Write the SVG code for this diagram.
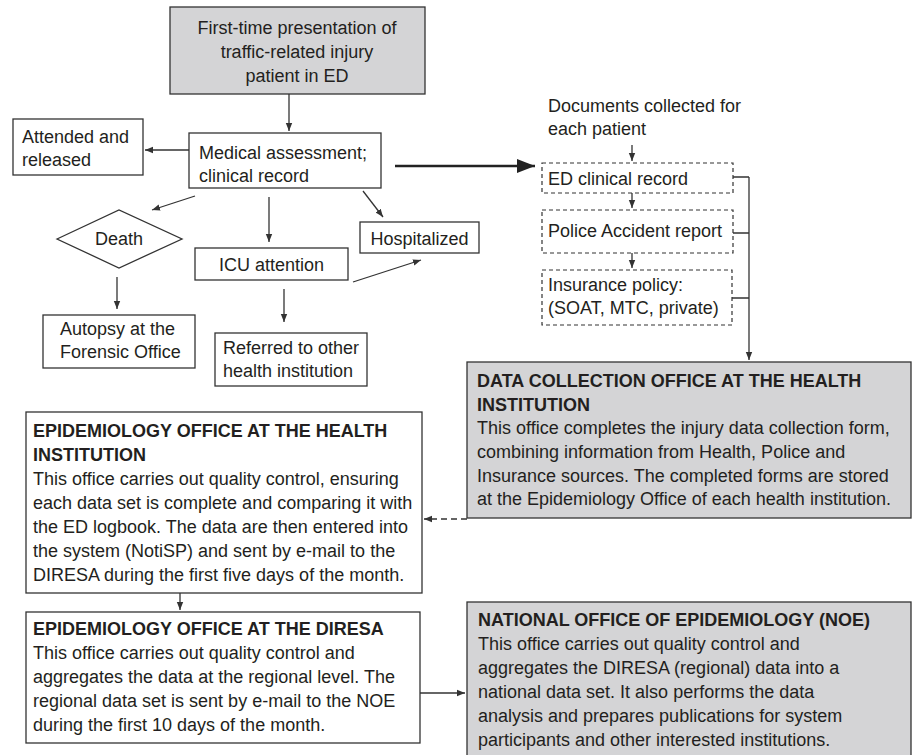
<svg xmlns="http://www.w3.org/2000/svg" width="917" height="755" viewBox="0 0 917 755">
<style>
text{font-family:"Liberation Sans",Arial,sans-serif;font-size:18px;fill:#231f20}
.b{font-weight:bold}
.box{fill:#fff;stroke:#333;stroke-width:1.3}
.gray{fill:#d4d4d6;stroke:#333;stroke-width:1.3}
.dash{fill:#fff;stroke:#333;stroke-width:1.2;stroke-dasharray:4,3}
.c{text-anchor:middle}
.ln{fill:none;stroke:#333;stroke-width:1.3}
</style>
<defs>
<marker id="ah" viewBox="0 0 10 10" refX="10" refY="5" markerWidth="8" markerHeight="8" markerUnits="userSpaceOnUse" orient="auto"><path d="M0,1 L10,5 L0,9 Z" fill="#333"/></marker>
<marker id="ahb" viewBox="0 0 10 10" refX="10" refY="5" markerWidth="18" markerHeight="14" markerUnits="userSpaceOnUse" orient="auto" preserveAspectRatio="none"><path d="M0,0 L10,5 L0,10 Z" fill="#222"/></marker>
</defs>
<g id="connectors">
<line class="ln" x1="289" y1="94" x2="289" y2="131" marker-end="url(#ah)"/>
<line class="ln" x1="189" y1="150" x2="145" y2="150" marker-end="url(#ah)"/>
<line x1="395" y1="166" x2="535" y2="166" stroke="#222" stroke-width="2.6" marker-end="url(#ahb)"/>
<line class="ln" x1="195" y1="196" x2="152" y2="210" marker-end="url(#ah)"/>
<line class="ln" x1="269" y1="197" x2="269" y2="242" marker-end="url(#ah)"/>
<line class="ln" x1="363" y1="191" x2="383" y2="217" marker-end="url(#ah)"/>
<line class="ln" x1="353" y1="282" x2="421" y2="260" marker-end="url(#ah)"/>
<line class="ln" x1="117" y1="277" x2="117" y2="309" marker-end="url(#ah)"/>
<line class="ln" x1="284" y1="289" x2="284" y2="322" marker-end="url(#ah)"/>
<line class="ln" x1="632" y1="145" x2="632" y2="161" marker-end="url(#ah)"/>
<line class="ln" x1="632" y1="193" x2="632" y2="208" marker-end="url(#ah)"/>
<line class="ln" x1="632" y1="253" x2="632" y2="268" marker-end="url(#ah)"/>
<path class="ln" d="M733,177 H749 M733,233 H749 M732,298 H749"/>
<line class="ln" x1="749" y1="177" x2="749" y2="360" marker-end="url(#ah)"/>
<line class="ln" x1="467" y1="519" x2="424" y2="519" stroke-dasharray="6,4" marker-end="url(#ah)"/>
<line class="ln" x1="180" y1="593" x2="180" y2="610" marker-end="url(#ah)"/>
<line class="ln" x1="420" y1="693" x2="465" y2="693" marker-end="url(#ah)"/>
</g>
<g id="first-presentation">
<rect class="gray" x="170" y="7" width="255" height="87"/>
<text class="c" x="297" y="34">First-time presentation of</text>
<text class="c" x="297" y="58">traffic-related injury</text>
<text class="c" x="297" y="82">patient in ED</text>
</g>
<g id="medical-assessment">
<rect class="box" x="189" y="133" width="192" height="55"/>
<text x="199" y="159">Medical assessment;</text>
<text x="199" y="182">clinical record</text>
</g>
<g id="attended-released">
<rect class="box" x="13" y="119" width="130" height="56"/>
<text x="22" y="143">Attended and</text>
<text x="22" y="166">released</text>
</g>
<g id="death">
<polygon class="box" points="57,239 119,210 182,239 119,268"/>
<text class="c" x="119" y="245">Death</text>
</g>
<g id="icu">
<rect class="box" x="195" y="248" width="153" height="32"/>
<text class="c" x="271.5" y="271">ICU attention</text>
</g>
<g id="hospitalized">
<rect class="box" x="360" y="222" width="119" height="31"/>
<text class="c" x="419.5" y="245">Hospitalized</text>
</g>
<g id="autopsy">
<rect class="box" x="43" y="315" width="152" height="53"/>
<text x="60" y="335">Autopsy at the</text>
<text x="60" y="358">Forensic Office</text>
</g>
<g id="referred">
<rect class="box" x="215" y="333" width="152" height="53"/>
<text x="223" y="354">Referred to other</text>
<text x="223" y="377">health institution</text>
</g>
<g id="documents-label">
<text x="548" y="112">Documents collected for</text>
<text x="548" y="135">each patient</text>
</g>
<g id="ed-record">
<rect class="dash" x="542" y="163" width="191" height="30"/>
<text x="548" y="185">ED clinical record</text>
</g>
<g id="police-report">
<rect class="dash" x="542" y="210" width="191" height="43"/>
<text x="548" y="237">Police Accident report</text>
</g>
<g id="insurance">
<rect class="dash" x="542" y="270" width="190" height="55"/>
<text x="548" y="291">Insurance policy:</text>
<text x="548" y="314">(SOAT, MTC, private)</text>
</g>
<g id="data-collection">
<rect class="gray" x="467" y="362" width="444" height="156"/>
<text class="b" x="477" y="387">DATA COLLECTION OFFICE AT THE HEALTH</text>
<text class="b" x="477" y="411">INSTITUTION</text>
<text x="477" y="434">This office completes the injury data collection form,</text>
<text x="477" y="458">combining information from Health, Police and</text>
<text x="477" y="482">Insurance sources. The completed forms are stored</text>
<text x="477" y="505">at the Epidemiology Office of each health institution.</text>
</g>
<g id="epi-health">
<rect class="box" x="26" y="412" width="396" height="181"/>
<text class="b" x="33" y="437">EPIDEMIOLOGY OFFICE AT THE HEALTH</text>
<text class="b" x="33" y="461">INSTITUTION</text>
<text x="33" y="485">This office carries out quality control, ensuring</text>
<text x="33" y="509">each data set is complete and comparing it with</text>
<text x="33" y="533">the ED logbook. The data are then entered into</text>
<text x="33" y="557">the system (NotiSP) and sent by e-mail to the</text>
<text x="33" y="581">DIRESA during the first five days of the month.</text>
</g>
<g id="epi-diresa">
<rect class="box" x="26" y="612" width="394" height="131"/>
<text class="b" x="33" y="635">EPIDEMIOLOGY OFFICE AT THE DIRESA</text>
<text x="33" y="659">This office carries out quality control and</text>
<text x="33" y="683">aggregates the data at the regional level. The</text>
<text x="33" y="707">regional data set is sent by e-mail to the NOE</text>
<text x="33" y="731">during the first 10 days of the month.</text>
</g>
<g id="noe">
<rect class="gray" x="467" y="602" width="444" height="156"/>
<text class="b" x="478" y="626">NATIONAL OFFICE OF EPIDEMIOLOGY (NOE)</text>
<text x="478" y="650">This office carries out quality control and</text>
<text x="478" y="674">aggregates the DIRESA (regional) data into a</text>
<text x="478" y="698">national data set. It also performs the data</text>
<text x="478" y="722">analysis and prepares publications for system</text>
<text x="478" y="746">participants and other interested institutions.</text>
</g>
</svg>
